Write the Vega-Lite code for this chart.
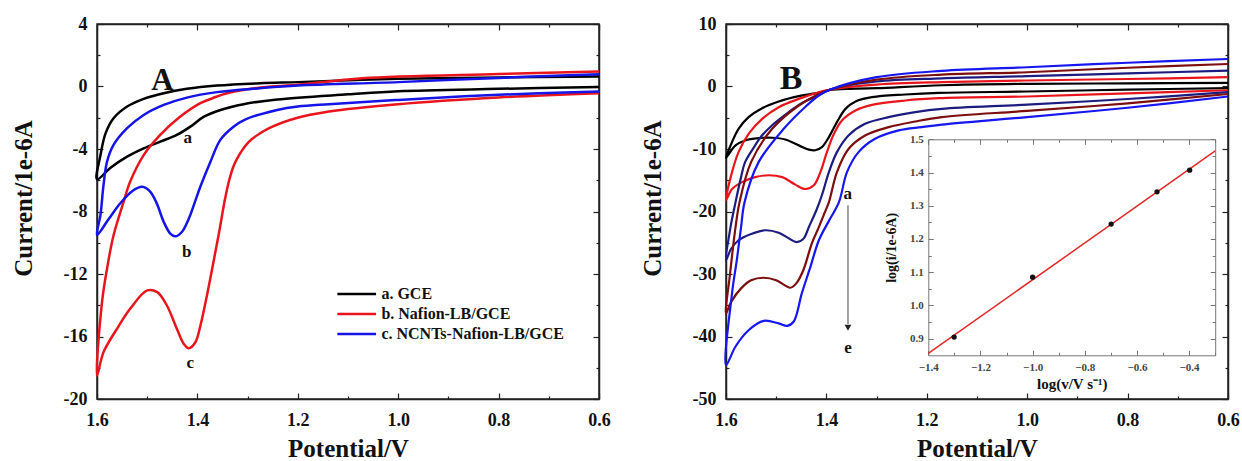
{
  "$schema": "https://vega.github.io/schema/vega-lite/v6.json",
  "padding": {"left": 10, "top": 14, "right": 0, "bottom": 0},
  "background": "white",
  "config": {
    "view": {"stroke": "#222", "strokeWidth": 1.5},
    "axis": {"grid": false, "labelFont": "Liberation Serif", "titleFont": "Liberation Serif", "labelFontWeight": "bold", "titleFontWeight": "bold", "labelColor": "#111", "titleColor": "#111", "domainColor": "#222", "domainWidth": 1.5, "tickColor": "#222", "tickWidth": 1.2, "labelFlush": false, "labelOverlap": false},
    "text": {"font": "Liberation Serif", "fontWeight": "bold", "color": "#111"}
  },
  "datasets": {
    "cvA": [
      {"electrode": "a. GCE", "step": 1, "potential": 0.6, "current": 0.64},
      {"electrode": "a. GCE", "step": 2, "potential": 0.8, "current": 0.58},
      {"electrode": "a. GCE", "step": 3, "potential": 1.0, "current": 0.49},
      {"electrode": "a. GCE", "step": 4, "potential": 1.2, "current": 0.28},
      {"electrode": "a. GCE", "step": 5, "potential": 1.275, "current": 0.21},
      {"electrode": "a. GCE", "step": 6, "potential": 1.361, "current": 0.06},
      {"electrode": "a. GCE", "step": 7, "potential": 1.421, "current": -0.15},
      {"electrode": "a. GCE", "step": 8, "potential": 1.467, "current": -0.43},
      {"electrode": "a. GCE", "step": 9, "potential": 1.507, "current": -0.79},
      {"electrode": "a. GCE", "step": 10, "potential": 1.54, "current": -1.28},
      {"electrode": "a. GCE", "step": 11, "potential": 1.567, "current": -2.03},
      {"electrode": "a. GCE", "step": 12, "potential": 1.583, "current": -3.0},
      {"electrode": "a. GCE", "step": 13, "potential": 1.593, "current": -4.39},
      {"electrode": "a. GCE", "step": 14, "potential": 1.6, "current": -5.95},
      {"electrode": "a. GCE", "step": 15, "potential": 1.573, "current": -5.2},
      {"electrode": "a. GCE", "step": 16, "potential": 1.54, "current": -4.49},
      {"electrode": "a. GCE", "step": 17, "potential": 1.507, "current": -3.96},
      {"electrode": "a. GCE", "step": 18, "potential": 1.474, "current": -3.53},
      {"electrode": "a. GCE", "step": 19, "potential": 1.441, "current": -3.1},
      {"electrode": "a. GCE", "step": 20, "potential": 1.414, "current": -2.57},
      {"electrode": "a. GCE", "step": 21, "potential": 1.387, "current": -1.93},
      {"electrode": "a. GCE", "step": 22, "potential": 1.354, "current": -1.5},
      {"electrode": "a. GCE", "step": 23, "potential": 1.308, "current": -1.13},
      {"electrode": "a. GCE", "step": 24, "potential": 1.241, "current": -0.83},
      {"electrode": "a. GCE", "step": 25, "potential": 1.1, "current": -0.5},
      {"electrode": "a. GCE", "step": 26, "potential": 1.0, "current": -0.3},
      {"electrode": "a. GCE", "step": 27, "potential": 0.8, "current": -0.15},
      {"electrode": "a. GCE", "step": 28, "potential": 0.6, "current": -0.03},

      {"electrode": "b. Nafion-LB/GCE", "step": 1, "potential": 0.6, "current": 0.96},
      {"electrode": "b. Nafion-LB/GCE", "step": 2, "potential": 0.8, "current": 0.8},
      {"electrode": "b. Nafion-LB/GCE", "step": 3, "potential": 1.072, "current": 0.53},
      {"electrode": "b. Nafion-LB/GCE", "step": 4, "potential": 1.2, "current": 0.11},
      {"electrode": "b. Nafion-LB/GCE", "step": 5, "potential": 1.275, "current": -0.06},
      {"electrode": "b. Nafion-LB/GCE", "step": 6, "potential": 1.341, "current": -0.43},
      {"electrode": "b. Nafion-LB/GCE", "step": 7, "potential": 1.37, "current": -0.75},
      {"electrode": "b. Nafion-LB/GCE", "step": 8, "potential": 1.394, "current": -1.07},
      {"electrode": "b. Nafion-LB/GCE", "step": 9, "potential": 1.437, "current": -2.0},
      {"electrode": "b. Nafion-LB/GCE", "step": 10, "potential": 1.474, "current": -3.1},
      {"electrode": "b. Nafion-LB/GCE", "step": 11, "potential": 1.507, "current": -4.39},
      {"electrode": "b. Nafion-LB/GCE", "step": 12, "potential": 1.534, "current": -6.1},
      {"electrode": "b. Nafion-LB/GCE", "step": 13, "potential": 1.547, "current": -7.38},
      {"electrode": "b. Nafion-LB/GCE", "step": 14, "potential": 1.567, "current": -9.52},
      {"electrode": "b. Nafion-LB/GCE", "step": 15, "potential": 1.58, "current": -11.66},
      {"electrode": "b. Nafion-LB/GCE", "step": 16, "potential": 1.59, "current": -13.8},
      {"electrode": "b. Nafion-LB/GCE", "step": 17, "potential": 1.6, "current": -18.5},
      {"electrode": "b. Nafion-LB/GCE", "step": 18, "potential": 1.587, "current": -17.0},
      {"electrode": "b. Nafion-LB/GCE", "step": 19, "potential": 1.56, "current": -15.5},
      {"electrode": "b. Nafion-LB/GCE", "step": 20, "potential": 1.534, "current": -14.23},
      {"electrode": "b. Nafion-LB/GCE", "step": 21, "potential": 1.5, "current": -13.05},
      {"electrode": "b. Nafion-LB/GCE", "step": 22, "potential": 1.48, "current": -13.16},
      {"electrode": "b. Nafion-LB/GCE", "step": 23, "potential": 1.461, "current": -14.0},
      {"electrode": "b. Nafion-LB/GCE", "step": 24, "potential": 1.441, "current": -15.5},
      {"electrode": "b. Nafion-LB/GCE", "step": 25, "potential": 1.427, "current": -16.48},
      {"electrode": "b. Nafion-LB/GCE", "step": 26, "potential": 1.417, "current": -16.75},
      {"electrode": "b. Nafion-LB/GCE", "step": 27, "potential": 1.404, "current": -16.37},
      {"electrode": "b. Nafion-LB/GCE", "step": 28, "potential": 1.394, "current": -15.3},
      {"electrode": "b. Nafion-LB/GCE", "step": 29, "potential": 1.381, "current": -13.37},
      {"electrode": "b. Nafion-LB/GCE", "step": 30, "potential": 1.368, "current": -11.23},
      {"electrode": "b. Nafion-LB/GCE", "step": 31, "potential": 1.356, "current": -9.2},
      {"electrode": "b. Nafion-LB/GCE", "step": 32, "potential": 1.345, "current": -7.2},
      {"electrode": "b. Nafion-LB/GCE", "step": 33, "potential": 1.335, "current": -5.8},
      {"electrode": "b. Nafion-LB/GCE", "step": 34, "potential": 1.324, "current": -4.81},
      {"electrode": "b. Nafion-LB/GCE", "step": 35, "potential": 1.297, "current": -3.53},
      {"electrode": "b. Nafion-LB/GCE", "step": 36, "potential": 1.257, "current": -2.67},
      {"electrode": "b. Nafion-LB/GCE", "step": 37, "potential": 1.204, "current": -2.03},
      {"electrode": "b. Nafion-LB/GCE", "step": 38, "potential": 1.138, "current": -1.6},
      {"electrode": "b. Nafion-LB/GCE", "step": 39, "potential": 1.0, "current": -1.13},
      {"electrode": "b. Nafion-LB/GCE", "step": 40, "potential": 0.8, "current": -0.7},
      {"electrode": "b. Nafion-LB/GCE", "step": 41, "potential": 0.6, "current": -0.43},

      {"electrode": "c. NCNTs-Nafion-LB/GCE", "step": 1, "potential": 0.6, "current": 0.79},
      {"electrode": "c. NCNTs-Nafion-LB/GCE", "step": 2, "potential": 0.8, "current": 0.55},
      {"electrode": "c. NCNTs-Nafion-LB/GCE", "step": 3, "potential": 1.0, "current": 0.28},
      {"electrode": "c. NCNTs-Nafion-LB/GCE", "step": 4, "potential": 1.2, "current": 0.06},
      {"electrode": "c. NCNTs-Nafion-LB/GCE", "step": 5, "potential": 1.275, "current": -0.11},
      {"electrode": "c. NCNTs-Nafion-LB/GCE", "step": 6, "potential": 1.361, "current": -0.36},
      {"electrode": "c. NCNTs-Nafion-LB/GCE", "step": 7, "potential": 1.421, "current": -0.71},
      {"electrode": "c. NCNTs-Nafion-LB/GCE", "step": 8, "potential": 1.467, "current": -1.18},
      {"electrode": "c. NCNTs-Nafion-LB/GCE", "step": 9, "potential": 1.507, "current": -1.82},
      {"electrode": "c. NCNTs-Nafion-LB/GCE", "step": 10, "potential": 1.54, "current": -2.67},
      {"electrode": "c. NCNTs-Nafion-LB/GCE", "step": 11, "potential": 1.567, "current": -3.74},
      {"electrode": "c. NCNTs-Nafion-LB/GCE", "step": 12, "potential": 1.58, "current": -4.81},
      {"electrode": "c. NCNTs-Nafion-LB/GCE", "step": 13, "potential": 1.587, "current": -6.3},
      {"electrode": "c. NCNTs-Nafion-LB/GCE", "step": 14, "potential": 1.593, "current": -8.2},
      {"electrode": "c. NCNTs-Nafion-LB/GCE", "step": 15, "potential": 1.6, "current": -9.5},
      {"electrode": "c. NCNTs-Nafion-LB/GCE", "step": 16, "potential": 1.577, "current": -8.5},
      {"electrode": "c. NCNTs-Nafion-LB/GCE", "step": 17, "potential": 1.554, "current": -7.49},
      {"electrode": "c. NCNTs-Nafion-LB/GCE", "step": 18, "potential": 1.53, "current": -6.7},
      {"electrode": "c. NCNTs-Nafion-LB/GCE", "step": 19, "potential": 1.51, "current": -6.42},
      {"electrode": "c. NCNTs-Nafion-LB/GCE", "step": 20, "potential": 1.495, "current": -6.7},
      {"electrode": "c. NCNTs-Nafion-LB/GCE", "step": 21, "potential": 1.482, "current": -7.4},
      {"electrode": "c. NCNTs-Nafion-LB/GCE", "step": 22, "potential": 1.467, "current": -8.67},
      {"electrode": "c. NCNTs-Nafion-LB/GCE", "step": 23, "potential": 1.454, "current": -9.41},
      {"electrode": "c. NCNTs-Nafion-LB/GCE", "step": 24, "potential": 1.444, "current": -9.59},
      {"electrode": "c. NCNTs-Nafion-LB/GCE", "step": 25, "potential": 1.431, "current": -9.31},
      {"electrode": "c. NCNTs-Nafion-LB/GCE", "step": 26, "potential": 1.417, "current": -8.45},
      {"electrode": "c. NCNTs-Nafion-LB/GCE", "step": 27, "potential": 1.404, "current": -7.3},
      {"electrode": "c. NCNTs-Nafion-LB/GCE", "step": 28, "potential": 1.394, "current": -6.4},
      {"electrode": "c. NCNTs-Nafion-LB/GCE", "step": 29, "potential": 1.374, "current": -4.81},
      {"electrode": "c. NCNTs-Nafion-LB/GCE", "step": 30, "potential": 1.354, "current": -3.4},
      {"electrode": "c. NCNTs-Nafion-LB/GCE", "step": 31, "potential": 1.328, "current": -2.57},
      {"electrode": "c. NCNTs-Nafion-LB/GCE", "step": 32, "potential": 1.304, "current": -2.1},
      {"electrode": "c. NCNTs-Nafion-LB/GCE", "step": 33, "potential": 1.241, "current": -1.5},
      {"electrode": "c. NCNTs-Nafion-LB/GCE", "step": 34, "potential": 1.2, "current": -1.28},
      {"electrode": "c. NCNTs-Nafion-LB/GCE", "step": 35, "potential": 1.138, "current": -1.13},
      {"electrode": "c. NCNTs-Nafion-LB/GCE", "step": 36, "potential": 1.0, "current": -0.86},
      {"electrode": "c. NCNTs-Nafion-LB/GCE", "step": 37, "potential": 0.8, "current": -0.53},
      {"electrode": "c. NCNTs-Nafion-LB/GCE", "step": 38, "potential": 0.6, "current": -0.32}
    ],
    "cvB": [
      {"curve": "a", "step": 1, "potential": 0.6, "current": 0.58},
      {"curve": "a", "step": 2, "potential": 0.8, "current": 0.5},
      {"curve": "a", "step": 3, "potential": 1.0, "current": 0.42},
      {"curve": "a", "step": 4, "potential": 1.17, "current": 0.2},
      {"curve": "a", "step": 5, "potential": 1.3, "current": -0.27},
      {"curve": "a", "step": 6, "potential": 1.392, "current": -0.55},
      {"curve": "a", "step": 7, "potential": 1.409, "current": -0.91},
      {"curve": "a", "step": 8, "potential": 1.455, "current": -1.55},
      {"curve": "a", "step": 9, "potential": 1.495, "current": -2.4},
      {"curve": "a", "step": 10, "potential": 1.528, "current": -3.47},
      {"curve": "a", "step": 11, "potential": 1.555, "current": -4.9},
      {"curve": "a", "step": 12, "potential": 1.575, "current": -6.77},
      {"curve": "a", "step": 13, "potential": 1.588, "current": -8.9},
      {"curve": "a", "step": 14, "potential": 1.6, "current": -11.4},
      {"curve": "a", "step": 15, "potential": 1.581, "current": -9.42},
      {"curve": "a", "step": 16, "potential": 1.562, "current": -8.63},
      {"curve": "a", "step": 17, "potential": 1.535, "current": -8.26},
      {"curve": "a", "step": 18, "potential": 1.508, "current": -8.2},
      {"curve": "a", "step": 19, "potential": 1.482, "current": -8.47},
      {"curve": "a", "step": 20, "potential": 1.455, "current": -9.42},
      {"curve": "a", "step": 21, "potential": 1.435, "current": -10.1},
      {"curve": "a", "step": 22, "potential": 1.422, "current": -10.2},
      {"curve": "a", "step": 23, "potential": 1.409, "current": -9.7},
      {"curve": "a", "step": 24, "potential": 1.395, "current": -8.1},
      {"curve": "a", "step": 25, "potential": 1.379, "current": -5.7},
      {"curve": "a", "step": 26, "potential": 1.362, "current": -3.58},
      {"curve": "a", "step": 27, "potential": 1.342, "current": -2.4},
      {"curve": "a", "step": 28, "potential": 1.309, "current": -1.71},
      {"curve": "a", "step": 29, "potential": 1.243, "current": -1.28},
      {"curve": "a", "step": 30, "potential": 1.176, "current": -1.02},
      {"curve": "a", "step": 31, "potential": 1.0, "current": -0.8},
      {"curve": "a", "step": 32, "potential": 0.8, "current": -0.5},
      {"curve": "a", "step": 33, "potential": 0.6, "current": -0.27},

      {"curve": "b", "step": 1, "potential": 0.6, "current": 1.49},
      {"curve": "b", "step": 2, "potential": 0.8, "current": 1.2},
      {"curve": "b", "step": 3, "potential": 1.0, "current": 0.96},
      {"curve": "b", "step": 4, "potential": 1.17, "current": 0.7},
      {"curve": "b", "step": 5, "potential": 1.3, "current": 0.3},
      {"curve": "b", "step": 6, "potential": 1.392, "current": -0.48},
      {"curve": "b", "step": 7, "potential": 1.415, "current": -0.91},
      {"curve": "b", "step": 8, "potential": 1.455, "current": -1.98},
      {"curve": "b", "step": 9, "potential": 1.495, "current": -3.31},
      {"curve": "b", "step": 10, "potential": 1.528, "current": -5.17},
      {"curve": "b", "step": 11, "potential": 1.555, "current": -7.57},
      {"curve": "b", "step": 12, "potential": 1.575, "current": -10.5},
      {"curve": "b", "step": 13, "potential": 1.588, "current": -13.7},
      {"curve": "b", "step": 14, "potential": 1.6, "current": -18.2},
      {"curve": "b", "step": 15, "potential": 1.588, "current": -16.4},
      {"curve": "b", "step": 16, "potential": 1.568, "current": -15.3},
      {"curve": "b", "step": 17, "potential": 1.542, "current": -14.5},
      {"curve": "b", "step": 18, "potential": 1.515, "current": -14.2},
      {"curve": "b", "step": 19, "potential": 1.488, "current": -14.5},
      {"curve": "b", "step": 20, "potential": 1.462, "current": -15.7},
      {"curve": "b", "step": 21, "potential": 1.442, "current": -16.4},
      {"curve": "b", "step": 22, "potential": 1.425, "current": -15.8},
      {"curve": "b", "step": 23, "potential": 1.412, "current": -13.7},
      {"curve": "b", "step": 24, "potential": 1.399, "current": -10.5},
      {"curve": "b", "step": 25, "potential": 1.385, "current": -7.57},
      {"curve": "b", "step": 26, "potential": 1.369, "current": -5.43},
      {"curve": "b", "step": 27, "potential": 1.342, "current": -3.83},
      {"curve": "b", "step": 28, "potential": 1.309, "current": -2.94},
      {"curve": "b", "step": 29, "potential": 1.243, "current": -2.24},
      {"curve": "b", "step": 30, "potential": 1.176, "current": -1.87},
      {"curve": "b", "step": 31, "potential": 1.0, "current": -1.6},
      {"curve": "b", "step": 32, "potential": 0.8, "current": -1.1},
      {"curve": "b", "step": 33, "potential": 0.6, "current": -0.6},

      {"curve": "c", "step": 1, "potential": 0.6, "current": 2.55},
      {"curve": "c", "step": 2, "potential": 0.8, "current": 2.1},
      {"curve": "c", "step": 3, "potential": 1.0, "current": 1.65},
      {"curve": "c", "step": 4, "potential": 1.17, "current": 1.3},
      {"curve": "c", "step": 5, "potential": 1.3, "current": 0.8},
      {"curve": "c", "step": 6, "potential": 1.392, "current": -0.48},
      {"curve": "c", "step": 7, "potential": 1.42, "current": -1.6},
      {"curve": "c", "step": 8, "potential": 1.45, "current": -2.7},
      {"curve": "c", "step": 9, "potential": 1.475, "current": -4.1},
      {"curve": "c", "step": 10, "potential": 1.508, "current": -6.2},
      {"curve": "c", "step": 11, "potential": 1.53, "current": -8.0},
      {"curve": "c", "step": 12, "potential": 1.542, "current": -9.43},
      {"curve": "c", "step": 13, "potential": 1.562, "current": -12.1},
      {"curve": "c", "step": 14, "potential": 1.57, "current": -14.5},
      {"curve": "c", "step": 15, "potential": 1.581, "current": -18.5},
      {"curve": "c", "step": 16, "potential": 1.591, "current": -22.5},
      {"curve": "c", "step": 17, "potential": 1.6, "current": -27.8},
      {"curve": "c", "step": 18, "potential": 1.59, "current": -26.0},
      {"curve": "c", "step": 19, "potential": 1.575, "current": -24.6},
      {"curve": "c", "step": 20, "potential": 1.55, "current": -23.6},
      {"curve": "c", "step": 21, "potential": 1.522, "current": -23.0},
      {"curve": "c", "step": 22, "potential": 1.495, "current": -23.4},
      {"curve": "c", "step": 23, "potential": 1.475, "current": -24.3},
      {"curve": "c", "step": 24, "potential": 1.459, "current": -24.9},
      {"curve": "c", "step": 25, "potential": 1.445, "current": -24.3},
      {"curve": "c", "step": 26, "potential": 1.435, "current": -22.5},
      {"curve": "c", "step": 27, "potential": 1.42, "current": -19.8},
      {"curve": "c", "step": 28, "potential": 1.409, "current": -17.4},
      {"curve": "c", "step": 29, "potential": 1.395, "current": -13.7},
      {"curve": "c", "step": 30, "potential": 1.379, "current": -10.5},
      {"curve": "c", "step": 31, "potential": 1.356, "current": -7.83},
      {"curve": "c", "step": 32, "potential": 1.323, "current": -5.97},
      {"curve": "c", "step": 33, "potential": 1.276, "current": -4.9},
      {"curve": "c", "step": 34, "potential": 1.223, "current": -4.1},
      {"curve": "c", "step": 35, "potential": 1.17, "current": -3.58},
      {"curve": "c", "step": 36, "potential": 1.0, "current": -2.9},
      {"curve": "c", "step": 37, "potential": 0.8, "current": -2.0},
      {"curve": "c", "step": 38, "potential": 0.6, "current": -0.9},

      {"curve": "d", "step": 1, "potential": 0.6, "current": 3.6},
      {"curve": "d", "step": 2, "potential": 0.8, "current": 3.0},
      {"curve": "d", "step": 3, "potential": 1.0, "current": 2.28},
      {"curve": "d", "step": 4, "potential": 1.17, "current": 1.9},
      {"curve": "d", "step": 5, "potential": 1.3, "current": 1.1},
      {"curve": "d", "step": 6, "potential": 1.392, "current": -0.48},
      {"curve": "d", "step": 7, "potential": 1.42, "current": -1.4},
      {"curve": "d", "step": 8, "potential": 1.455, "current": -3.04},
      {"curve": "d", "step": 9, "potential": 1.508, "current": -6.77},
      {"curve": "d", "step": 10, "potential": 1.55, "current": -12.1},
      {"curve": "d", "step": 11, "potential": 1.573, "current": -18.5},
      {"curve": "d", "step": 12, "potential": 1.581, "current": -22.5},
      {"curve": "d", "step": 13, "potential": 1.592, "current": -30.0},
      {"curve": "d", "step": 14, "potential": 1.6, "current": -36.3},
      {"curve": "d", "step": 15, "potential": 1.59, "current": -34.5},
      {"curve": "d", "step": 16, "potential": 1.57, "current": -32.3},
      {"curve": "d", "step": 17, "potential": 1.55, "current": -31.0},
      {"curve": "d", "step": 18, "potential": 1.525, "current": -30.6},
      {"curve": "d", "step": 19, "potential": 1.5, "current": -31.0},
      {"curve": "d", "step": 20, "potential": 1.485, "current": -31.7},
      {"curve": "d", "step": 21, "potential": 1.472, "current": -32.2},
      {"curve": "d", "step": 22, "potential": 1.46, "current": -31.5},
      {"curve": "d", "step": 23, "potential": 1.446, "current": -29.4},
      {"curve": "d", "step": 24, "potential": 1.429, "current": -25.1},
      {"curve": "d", "step": 25, "potential": 1.415, "current": -22.5},
      {"curve": "d", "step": 26, "potential": 1.405, "current": -20.5},
      {"curve": "d", "step": 27, "potential": 1.395, "current": -18.5},
      {"curve": "d", "step": 28, "potential": 1.379, "current": -13.7},
      {"curve": "d", "step": 29, "potential": 1.356, "current": -10.0},
      {"curve": "d", "step": 30, "potential": 1.323, "current": -7.83},
      {"curve": "d", "step": 31, "potential": 1.276, "current": -6.5},
      {"curve": "d", "step": 32, "potential": 1.223, "current": -5.6},
      {"curve": "d", "step": 33, "potential": 1.17, "current": -4.9},
      {"curve": "d", "step": 34, "potential": 1.0, "current": -3.9},
      {"curve": "d", "step": 35, "potential": 0.8, "current": -2.7},
      {"curve": "d", "step": 36, "potential": 0.6, "current": -1.2},

      {"curve": "e", "step": 1, "potential": 0.6, "current": 4.4},
      {"curve": "e", "step": 2, "potential": 0.8, "current": 3.8},
      {"curve": "e", "step": 3, "potential": 1.0, "current": 3.08},
      {"curve": "e", "step": 4, "potential": 1.17, "current": 2.5},
      {"curve": "e", "step": 5, "potential": 1.3, "current": 1.49},
      {"curve": "e", "step": 6, "potential": 1.392, "current": -0.48},
      {"curve": "e", "step": 7, "potential": 1.415, "current": -1.44},
      {"curve": "e", "step": 8, "potential": 1.439, "current": -3.04},
      {"curve": "e", "step": 9, "potential": 1.485, "current": -6.77},
      {"curve": "e", "step": 10, "potential": 1.535, "current": -12.1},
      {"curve": "e", "step": 11, "potential": 1.563, "current": -18.5},
      {"curve": "e", "step": 12, "potential": 1.57, "current": -22.5},
      {"curve": "e", "step": 13, "potential": 1.578, "current": -27.5},
      {"curve": "e", "step": 14, "potential": 1.588, "current": -33.1},
      {"curve": "e", "step": 15, "potential": 1.6, "current": -44.6},
      {"curve": "e", "step": 16, "potential": 1.581, "current": -41.6},
      {"curve": "e", "step": 17, "potential": 1.555, "current": -39.0},
      {"curve": "e", "step": 18, "potential": 1.525, "current": -37.5},
      {"curve": "e", "step": 19, "potential": 1.495, "current": -37.9},
      {"curve": "e", "step": 20, "potential": 1.478, "current": -38.3},
      {"curve": "e", "step": 21, "potential": 1.465, "current": -37.6},
      {"curve": "e", "step": 22, "potential": 1.449, "current": -33.1},
      {"curve": "e", "step": 23, "potential": 1.432, "current": -28.9},
      {"curve": "e", "step": 24, "potential": 1.415, "current": -24.6},
      {"curve": "e", "step": 25, "potential": 1.395, "current": -21.5},
      {"curve": "e", "step": 26, "potential": 1.375, "current": -18.5},
      {"curve": "e", "step": 27, "potential": 1.359, "current": -13.7},
      {"curve": "e", "step": 28, "potential": 1.336, "current": -10.5},
      {"curve": "e", "step": 29, "potential": 1.303, "current": -8.37},
      {"curve": "e", "step": 30, "potential": 1.256, "current": -7.03},
      {"curve": "e", "step": 31, "potential": 1.21, "current": -6.5},
      {"curve": "e", "step": 32, "potential": 1.17, "current": -6.1},
      {"curve": "e", "step": 33, "potential": 1.0, "current": -4.9},
      {"curve": "e", "step": 34, "potential": 0.8, "current": -3.4},
      {"curve": "e", "step": 35, "potential": 0.6, "current": -1.6}
    ],
    "rate": [
      {"logv": -1.301, "logi": 0.905},
      {"logv": -1.0, "logi": 1.085},
      {"logv": -0.699, "logi": 1.245},
      {"logv": -0.523, "logi": 1.342},
      {"logv": -0.398, "logi": 1.407}
    ],
    "notesA": [
      {"label": "a", "potential": 1.419, "current": -3.63},
      {"label": "b", "potential": 1.421, "current": -10.91},
      {"label": "c", "potential": 1.414, "current": -18.02}
    ],
    "notesB": [
      {"label": "a", "potential": 1.3575, "current": -17.96},
      {"label": "e", "potential": 1.357, "current": -42.6}
    ]
  },
  "spacing": 28,
  "resolve": {"scale": {"color": "independent"}},
  "hconcat": [
    {
      "width": 502,
      "height": 375,
      "resolve": {"axis": {"x": "independent", "y": "independent"}},
      "layer": [
        {
          "data": {"name": "cvA"},
          "mark": {"type": "line", "strokeWidth": 2.5, "interpolate": "catmull-rom"},
          "encoding": {
            "x": {"field": "potential", "type": "quantitative",
              "scale": {"domain": [0.6, 1.6], "reverse": true, "nice": false, "zero": false},
              "axis": {"orient": "bottom", "title": "Potential/V", "titleFontSize": 25, "titlePadding": 4,
                "values": [0.6, 0.7, 0.8, 0.9, 1.0, 1.1, 1.2, 1.3, 1.4, 1.5, 1.6],
                "labelExpr": "round(datum.value*10) % 2 == 0 ? format(datum.value, '.1f') : ''",
                "labelFontSize": 18, "labelPadding": 18,
                "tickSize": {"condition": {"test": "round(datum.value*10) % 2 == 0", "value": -6}, "value": -3}}},
            "y": {"field": "current", "type": "quantitative",
              "scale": {"domain": [-20, 4], "nice": false, "zero": false},
              "axis": {"orient": "left", "title": "Current/1e-6A", "titleFontSize": 25, "titlePadding": 27, "titleY": 174,
                "values": [-20, -18, -16, -14, -12, -10, -8, -6, -4, -2, 0, 2, 4],
                "labelExpr": "datum.value % 4 == 0 ? '' + datum.value : ''",
                "labelFontSize": 18, "labelPadding": 16,
                "tickSize": {"condition": {"test": "datum.value % 4 == 0", "value": -6}, "value": -3}}},
            "color": {"field": "electrode", "type": "nominal",
              "scale": {"domain": ["a. GCE", "b. Nafion-LB/GCE", "c. NCNTs-Nafion-LB/GCE"], "range": ["#000000", "#e8161c", "#1414e6"]},
              "legend": {"orient": "none", "legendX": 248.7, "legendY": 259, "title": null, "symbolType": "M-2,0H2", "symbolSize": 375, "symbolStrokeWidth": 2.5,
                "labelFont": "Liberation Serif", "labelFontWeight": "bold", "labelFontSize": 16, "labelColor": "#111", "labelOffset": 13.7, "labelLimit": 400, "rowPadding": 1}},
            "order": {"field": "step", "type": "quantitative"}
          }
        },
        {
          "data": {"name": "notesA"},
          "mark": {"type": "text", "fontSize": 17, "baseline": "alphabetic", "align": "center"},
          "encoding": {
            "x": {"field": "potential", "type": "quantitative", "axis": null},
            "y": {"field": "current", "type": "quantitative", "axis": null},
            "text": {"field": "label"}
          }
        },
        {
          "data": {"values": [{"label": "A", "potential": 1.4695, "current": -0.22}]},
          "mark": {"type": "text", "fontSize": 31, "baseline": "alphabetic", "align": "center"},
          "encoding": {
            "x": {"field": "potential", "type": "quantitative", "axis": null},
            "y": {"field": "current", "type": "quantitative", "axis": null},
            "text": {"field": "label"}
          }
        },
        {
          "data": {"name": "cvA"},
          "mark": {"type": "point", "opacity": 0},
          "encoding": {
            "x": {"field": "potential", "type": "quantitative",
              "axis": {"orient": "top", "title": null, "labels": false,
                "values": [0.6, 0.7, 0.8, 0.9, 1.0, 1.1, 1.2, 1.3, 1.4, 1.5, 1.6],
                "tickSize": {"condition": {"test": "round(datum.value*10) % 2 == 0", "value": -6}, "value": -3}}},
            "y": {"field": "current", "type": "quantitative",
              "axis": {"orient": "right", "title": null, "labels": false,
                "values": [-20, -18, -16, -14, -12, -10, -8, -6, -4, -2, 0, 2, 4],
                "tickSize": {"condition": {"test": "datum.value % 4 == 0", "value": -6}, "value": -3}}}
          }
        }
      ]
    },
    {
      "width": 502,
      "height": 375,
      "resolve": {"scale": {"x": "independent", "y": "independent"}, "axis": {"x": "independent", "y": "independent"}},
      "layer": [
        {
          "resolve": {"axis": {"x": "independent", "y": "independent"}},
          "layer": [
            {
              "data": {"name": "cvB"},
              "mark": {"type": "line", "strokeWidth": 2.2, "interpolate": "catmull-rom"},
              "encoding": {
                "x": {"field": "potential", "type": "quantitative",
                  "scale": {"domain": [0.6, 1.6], "reverse": true, "nice": false, "zero": false},
                  "axis": {"orient": "bottom", "title": "Potential/V", "titleFontSize": 25, "titlePadding": 4,
                    "values": [0.6, 0.7, 0.8, 0.9, 1.0, 1.1, 1.2, 1.3, 1.4, 1.5, 1.6],
                    "labelExpr": "round(datum.value*10) % 2 == 0 ? format(datum.value, '.1f') : ''",
                    "labelFontSize": 18, "labelPadding": 18,
                    "tickSize": {"condition": {"test": "round(datum.value*10) % 2 == 0", "value": -6}, "value": -3}}},
                "y": {"field": "current", "type": "quantitative",
                  "scale": {"domain": [-50, 10], "nice": false, "zero": false},
                  "axis": {"orient": "left", "title": "Current/1e-6A", "titleFontSize": 25, "titlePadding": 27, "titleY": 174,
                    "values": [-50, -45, -40, -35, -30, -25, -20, -15, -10, -5, 0, 5, 10],
                    "labelExpr": "datum.value % 10 == 0 ? '' + datum.value : ''",
                    "labelFontSize": 18, "labelPadding": 16,
                    "tickSize": {"condition": {"test": "datum.value % 10 == 0", "value": -6}, "value": -3}}},
                "color": {"field": "curve", "type": "nominal",
                  "scale": {"domain": ["a", "b", "c", "d", "e"], "range": ["#000000", "#e8161c", "#1c1c80", "#7c0e0e", "#1616f0"]},
                  "legend": null},
                "order": {"field": "step", "type": "quantitative"}
              }
            },
            {
              "data": {"name": "notesB"},
              "mark": {"type": "text", "fontSize": 17, "baseline": "alphabetic", "align": "center"},
              "encoding": {
                "x": {"field": "potential", "type": "quantitative", "axis": null},
                "y": {"field": "current", "type": "quantitative", "axis": null},
                "text": {"field": "label"}
              }
            },
            {
              "data": {"values": [{"label": "B", "potential": 1.4705, "current": -0.38}]},
              "mark": {"type": "text", "fontSize": 34, "baseline": "alphabetic", "align": "center"},
              "encoding": {
                "x": {"field": "potential", "type": "quantitative", "axis": null},
                "y": {"field": "current", "type": "quantitative", "axis": null},
                "text": {"field": "label"}
              }
            },
            {
              "data": {"values": [{"potential": 1.357, "start": -19.0, "end": -38.0}]},
              "mark": {"type": "rule", "color": "#444", "strokeWidth": 1},
              "encoding": {
                "x": {"field": "potential", "type": "quantitative", "axis": null},
                "y": {"field": "start", "type": "quantitative", "axis": null},
                "y2": {"field": "end"}
              }
            },
            {
              "data": {"values": [{"potential": 1.357, "current": -38.6}]},
              "mark": {"type": "point", "shape": "triangle-down", "filled": true, "color": "#222", "size": 45, "opacity": 1},
              "encoding": {
                "x": {"field": "potential", "type": "quantitative", "axis": null},
                "y": {"field": "current", "type": "quantitative", "axis": null}
              }
            },
            {
              "data": {"name": "cvB"},
              "mark": {"type": "point", "opacity": 0},
              "encoding": {
                "x": {"field": "potential", "type": "quantitative",
                  "axis": {"orient": "top", "title": null, "labels": false,
                    "values": [0.6, 0.7, 0.8, 0.9, 1.0, 1.1, 1.2, 1.3, 1.4, 1.5, 1.6],
                    "tickSize": {"condition": {"test": "round(datum.value*10) % 2 == 0", "value": -6}, "value": -3}}},
                "y": {"field": "current", "type": "quantitative",
                  "axis": {"orient": "right", "title": null, "labels": false,
                    "values": [-50, -45, -40, -35, -30, -25, -20, -15, -10, -5, 0, 5, 10],
                    "tickSize": {"condition": {"test": "datum.value % 10 == 0", "value": -6}, "value": -3}}}
              }
            }
          ]
        },
        {
          "resolve": {"axis": {"x": "independent", "y": "independent"}},
          "layer": [
            {
              "data": {"name": "rate"},
              "transform": [{"regression": "logi", "on": "logv", "extent": [-1.4, -0.3]}],
              "mark": {"type": "line", "color": "#e02828", "strokeWidth": 1.5},
              "encoding": {
                "x": {"field": "logv", "type": "quantitative",
                  "scale": {"domain": [-1.4, -0.3], "range": [202.3, 489.2], "nice": false, "zero": false},
                  "axis": {"orient": "bottom", "offset": -43.7, "title": "log(v/V s⁻¹)", "titleFontSize": 15, "titlePadding": 2,
                    "values": [-1.4, -1.3, -1.2, -1.1, -1.0, -0.9, -0.8, -0.7, -0.6, -0.5, -0.4, -0.3],
                    "labelExpr": "round(datum.value*10) % 2 == 0 ? format(datum.value, '.1f') : ''",
                    "labelFontSize": 11, "labelColor": "#444", "labelPadding": 11,
                    "domainColor": "#777", "domainWidth": 1, "tickColor": "#777", "tickWidth": 1,
                    "tickSize": {"condition": {"test": "round(datum.value*10) % 2 == 0", "value": -5}, "value": -3}}},
                "y": {"field": "logi", "type": "quantitative",
                  "scale": {"domain": [0.85, 1.5], "range": [331.3, 115.3], "nice": false, "zero": false},
                  "axis": {"orient": "left", "offset": -202.3, "title": "log(i/1e-6A)", "titleFontSize": 14, "titlePadding": 11,
                    "values": [0.9, 0.95, 1.0, 1.05, 1.1, 1.15, 1.2, 1.25, 1.3, 1.35, 1.4, 1.45, 1.5],
                    "labelExpr": "round(datum.value*100) % 10 == 0 ? format(datum.value, '.1f') : ''",
                    "labelFontSize": 11, "labelColor": "#444", "labelPadding": 10,
                    "domainColor": "#777", "domainWidth": 1, "tickColor": "#777", "tickWidth": 1,
                    "tickSize": {"condition": {"test": "round(datum.value*100) % 10 == 0", "value": -5}, "value": -3}}}
              }
            },
            {
              "data": {"name": "rate"},
              "mark": {"type": "point", "filled": true, "color": "#111", "size": 28, "opacity": 1},
              "encoding": {
                "x": {"field": "logv", "type": "quantitative", "axis": null},
                "y": {"field": "logi", "type": "quantitative", "axis": null}
              }
            },
            {
              "data": {"name": "rate"},
              "mark": {"type": "point", "opacity": 0},
              "encoding": {
                "x": {"field": "logv", "type": "quantitative",
                  "axis": {"orient": "top", "offset": -115.3, "title": null, "labels": false,
                    "values": [-1.4, -1.3, -1.2, -1.1, -1.0, -0.9, -0.8, -0.7, -0.6, -0.5, -0.4, -0.3],
                    "domainColor": "#777", "domainWidth": 1, "tickColor": "#777", "tickWidth": 1,
                    "tickSize": {"condition": {"test": "round(datum.value*10) % 2 == 0", "value": -5}, "value": -3}}},
                "y": {"field": "logi", "type": "quantitative",
                  "axis": {"orient": "right", "offset": -12.8, "title": null, "labels": false,
                    "values": [0.9, 0.95, 1.0, 1.05, 1.1, 1.15, 1.2, 1.25, 1.3, 1.35, 1.4, 1.45, 1.5],
                    "domainColor": "#777", "domainWidth": 1, "tickColor": "#777", "tickWidth": 1,
                    "tickSize": {"condition": {"test": "round(datum.value*100) % 10 == 0", "value": -5}, "value": -3}}}
              }
            }
          ]
        }
      ]
    }
  ]
}
